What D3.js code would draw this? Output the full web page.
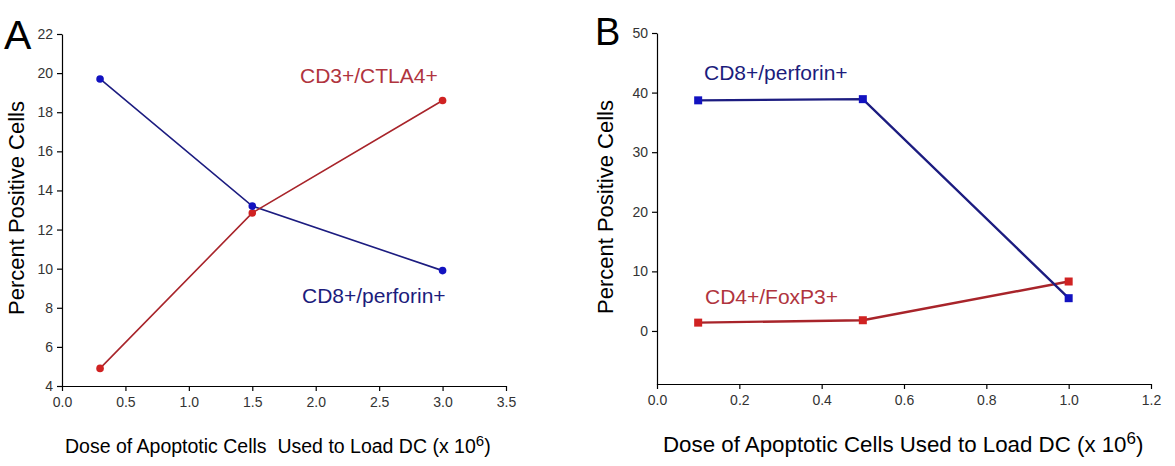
<!DOCTYPE html>
<html><head><meta charset="utf-8">
<script src="https://cdn.jsdelivr.net/npm/d3@7"></script>
<style>
html,body{margin:0;padding:0;background:#fff;}
svg text{font-family:"Liberation Sans",Arial,sans-serif;}
</style></head>
<body>
<svg id="c" width="1175" height="466"></svg>
<script>
// Panel A data
const doseA = [0.3, 1.5, 3.0];
const cd8PerforinA = [19.7, 13.2, 9.9];
const cd3Ctla4A = [4.9, 12.85, 18.6];
const xTicksA = [0, 0.5, 1.0, 1.5, 2.0, 2.5, 3.0, 3.5];
const yTicksA = [4, 6, 8, 10, 12, 14, 16, 18, 20, 22];
// Panel B data
const doseB = [0.1, 0.5, 1.0];
const cd8PerforinB = [38.7, 38.9, 5.5];
const cd4Foxp3B = [1.4, 1.8, 8.3];
const xTicksB = [0, 0.2, 0.4, 0.6, 0.8, 1.0, 1.2];
const yTicksB = [0, 10, 20, 30, 40, 50];

const svg = d3.select("#c");
const blueLine = "#1c1c80", blueMark = "#1212c0", redLine = "#a8242a", redMark = "#d02222";
const blueText = "#1c1c7c", redText = "#b0343e";

function axes(x, y, xt, yt, fmtX, x0, y0) {
  const gx = svg.append("g").attr("transform", `translate(0,${y0})`)
    .call(d3.axisBottom(x).tickValues(xt).tickFormat(fmtX).tickSize(5).tickSizeOuter(0).tickPadding(6));
  const gy = svg.append("g").attr("transform", `translate(${x0},0)`)
    .call(d3.axisLeft(y).tickValues(yt).tickFormat(d3.format("d")).tickSize(5).tickSizeOuter(0).tickPadding(4));
  [gx, gy].forEach(g => {
    g.selectAll("path,line").attr("stroke", "#000").attr("stroke-width", 1.2);
    g.selectAll("text").attr("fill", "#333").style("font-size", "14px").style("font-family", "'Liberation Sans',Arial,sans-serif");
  });
}

// ---------- Panel A ----------
const xA = d3.scaleLinear().domain([0, 3.5]).range([62, 506]);
const yA = d3.scaleLinear().domain([4, 22]).range([386, 34]);
axes(xA, yA, xTicksA, yTicksA, d3.format(".1f"), 62, 386);

const lineA = d3.line().x(d => xA(d[0])).y(d => yA(d[1]));
[[cd8PerforinA, blueLine], [cd3Ctla4A, redLine]].forEach(([vals, lc]) => {
  const pts = doseA.map((d, i) => [d, vals[i]]);
  svg.append("path").attr("d", lineA(pts)).attr("fill", "none").attr("stroke", lc).attr("stroke-width", 1.6);
});
[[cd3Ctla4A, redMark], [cd8PerforinA, blueMark]].forEach(([vals, mc]) => {
  svg.selectAll(null).data(doseA.map((d, i) => [d, vals[i]])).enter().append("circle")
    .attr("cx", d => xA(d[0])).attr("cy", d => yA(d[1])).attr("r", 3.8).attr("fill", mc);
});

svg.append("text").attr("x", 4).attr("y", 49).style("font-size", "41px").attr("fill", "#000").text("A");
svg.append("text").attr("transform", "translate(24,208) rotate(-90)").attr("text-anchor", "middle")
  .style("font-size", "22px").attr("fill", "#000").text("Percent Positive Cells");
const tA = svg.append("text").attr("x", 65).attr("y", 453).style("font-size", "19.5px").attr("fill", "#000")
  .attr("xml:space", "preserve");
tA.append("tspan").text("Dose of Apoptotic Cells  Used to Load DC (x 10");
tA.append("tspan").attr("dy", -7).style("font-size", "15px").text("6");
tA.append("tspan").attr("dy", 7).text(")");
svg.append("text").attr("x", 300).attr("y", 83).style("font-size", "21px").attr("fill", redText).text("CD3+/CTLA4+");
svg.append("text").attr("x", 302).attr("y", 303).style("font-size", "21px").attr("fill", blueText).text("CD8+/perforin+");

// ---------- Panel B ----------
const xB = d3.scaleLinear().domain([0, 1.2]).range([657, 1151]);
const yB = d3.scaleLinear().domain([-9, 50]).range([384.6, 33]);
axes(xB, yB, xTicksB, yTicksB, d3.format(".1f"), 657, 384);

const lineB = d3.line().x(d => xB(d[0])).y(d => yB(d[1]));
[[cd4Foxp3B, redLine], [cd8PerforinB, blueLine]].forEach(([vals, lc]) => {
  svg.append("path").attr("d", lineB(doseB.map((d, i) => [d, vals[i]]))).attr("fill", "none")
    .attr("stroke", lc).attr("stroke-width", 2.4);
});
[[cd4Foxp3B, redMark], [cd8PerforinB, blueMark]].forEach(([vals, mc]) => {
  svg.selectAll(null).data(doseB.map((d, i) => [d, vals[i]])).enter().append("rect")
    .attr("x", d => xB(d[0]) - 4).attr("y", d => yB(d[1]) - 4).attr("width", 8).attr("height", 8).attr("fill", mc);
});

svg.append("text").attr("x", 595).attr("y", 45).style("font-size", "38px").attr("fill", "#000").text("B");
svg.append("text").attr("transform", "translate(613,207) rotate(-90)").attr("text-anchor", "middle")
  .style("font-size", "22px").attr("fill", "#000").text("Percent Positive Cells");
const tB = svg.append("text").attr("x", 663).attr("y", 452).style("font-size", "22.3px").attr("fill", "#000");
tB.append("tspan").text("Dose of Apoptotic Cells Used to Load DC (x 10");
tB.append("tspan").attr("dy", -8).style("font-size", "17px").text("6");
tB.append("tspan").attr("dy", 8).text(")");
svg.append("text").attr("x", 704).attr("y", 80).style("font-size", "21px").attr("fill", blueText).text("CD8+/perforin+");
svg.append("text").attr("x", 705).attr("y", 304).style("font-size", "21px").attr("fill", redText).text("CD4+/FoxP3+");
</script>
</body></html>
